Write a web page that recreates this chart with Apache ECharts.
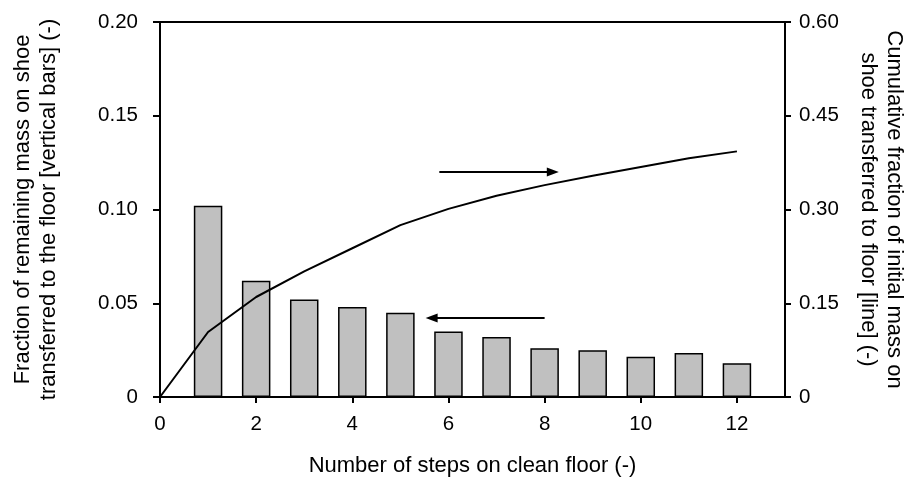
<!DOCTYPE html>
<html>
<head>
<meta charset="utf-8">
<script src="https://cdn.jsdelivr.net/npm/echarts@6/dist/echarts.min.js"></script>
<style>
  html, body { margin: 0; padding: 0; background: #fff; }
  #chart { width: 918px; height: 484px; }
</style>
</head>
<body>
<div id="chart"></div>
<script>
// Steps on the clean floor (bar positions) and the fraction of the mass
// still on the shoe that is left behind at each step.
const steps = [1, 2, 3, 4, 5, 6, 7, 8, 9, 10, 11, 12];
const fractionTransferred = [0.102, 0.062, 0.052, 0.048, 0.045, 0.035, 0.032, 0.026, 0.025, 0.0215, 0.0235, 0.018];

// Cumulative fraction of the initial mass transferred, from step 0.
const cumulativeSteps = [0, 1, 2, 3, 4, 5, 6, 7, 8, 9, 10, 11, 12];
const cumulativeFraction = [0, 0.104, 0.160, 0.201, 0.238, 0.275, 0.301, 0.322, 0.339, 0.354, 0.368, 0.382, 0.393];

// Axis ranges and tick spacing.
const xTicks = { min: 0, max: 13, interval: 2 };
const leftTicks = { min: 0, max: 0.20, interval: 0.05 };
const rightTicks = { min: 0, max: 0.60, interval: 0.15 };

// Arrow annotations in data units: [xFrom, xTo, y].
const barArrow = [8.0, 5.65, 0.0421];
const lineArrow = [5.81, 8.17, 0.36];

const FONT = 'Liberation Sans, Arial, sans-serif';
const INK = '#000';
const TICK_SIZE = 20.5;
const TITLE_SIZE = 22;

const tickFmt = (digits) => (v) => (v === 0 ? '0' : v.toFixed(digits));

const chart = echarts.init(document.getElementById('chart'), null, { renderer: 'canvas' });

chart.setOption({
  animation: false,
  backgroundColor: '#fff',
  grid: {
    left: 160, right: 133, top: 22, bottom: 87,
    show: true, borderColor: INK, borderWidth: 2, backgroundColor: 'transparent'
  },
  xAxis: {
    type: 'value',
    min: xTicks.min, max: xTicks.max, interval: xTicks.interval,
    name: 'Number of steps on clean floor (-)',
    nameLocation: 'middle',
    nameGap: 58,
    nameTextStyle: { fontFamily: FONT, fontSize: TITLE_SIZE, color: INK },
    axisLine: { show: true, lineStyle: { color: INK, width: 2 } },
    axisTick: { show: true, length: 6, lineStyle: { color: INK, width: 2 } },
    axisLabel: { showMaxLabel: false, margin: 17, fontFamily: FONT, fontSize: TICK_SIZE, color: INK },
    splitLine: { show: false }
  },
  yAxis: [
    {
      type: 'value',
      position: 'left',
      min: leftTicks.min, max: leftTicks.max, interval: leftTicks.interval,
      name: 'Fraction of remaining mass on shoe\ntransferred to the floor [vertical bars] (-)',
      nameLocation: 'middle',
      nameGap: 98,
      nameTextStyle: { fontFamily: FONT, fontSize: TITLE_SIZE, color: INK, lineHeight: 26 },
      axisLine: { show: true, lineStyle: { color: INK, width: 2 } },
      axisTick: { show: true, length: 7, lineStyle: { color: INK, width: 2 } },
      axisLabel: { formatter: tickFmt(2), margin: 22, fontFamily: FONT, fontSize: TICK_SIZE, color: INK },
      splitLine: { show: false }
    },
    {
      type: 'value',
      position: 'right',
      min: rightTicks.min, max: rightTicks.max, interval: rightTicks.interval,
      name: 'Cumulative fraction of initial mass on\nshoe transferred to floor [line] (-)',
      nameLocation: 'middle',
      nameRotate: -90,
      nameGap: 70,
      nameTextStyle: { fontFamily: FONT, fontSize: TITLE_SIZE, color: INK, lineHeight: 26 },
      axisLine: { show: true, lineStyle: { color: INK, width: 2 } },
      axisTick: { show: true, length: 6, lineStyle: { color: INK, width: 2 } },
      axisLabel: { formatter: tickFmt(2), margin: 14, fontFamily: FONT, fontSize: TICK_SIZE, color: INK },
      splitLine: { show: false }
    }
  ],
  series: [
    {
      name: 'fraction',
      type: 'bar',
      yAxisIndex: 0,
      barWidth: 28.5,
      data: steps.map((s, i) => [s, fractionTransferred[i]]),
      itemStyle: { color: '#c0c0c0', borderColor: INK, borderWidth: 1.5 },
      markLine: {
        silent: true,
        symbol: ['none', 'triangle'],
        symbolSize: [9, 12],
        label: { show: false },
        lineStyle: { color: INK, width: 2, type: 'solid' },
        data: [[{ coord: [barArrow[0], barArrow[2]] }, { coord: [barArrow[1], barArrow[2]] }]]
      },
      z: 2
    },
    {
      name: 'cumulative',
      type: 'line',
      yAxisIndex: 1,
      symbol: 'none',
      data: cumulativeSteps.map((s, i) => [s, cumulativeFraction[i]]),
      lineStyle: { color: INK, width: 2 },
      markLine: {
        silent: true,
        symbol: ['none', 'triangle'],
        symbolSize: [9, 12],
        label: { show: false },
        lineStyle: { color: INK, width: 2, type: 'solid' },
        data: [[{ coord: [lineArrow[0], lineArrow[2]] }, { coord: [lineArrow[1], lineArrow[2]] }]]
      },
      z: 3
    }
  ]
});
</script>
</body>
</html>
